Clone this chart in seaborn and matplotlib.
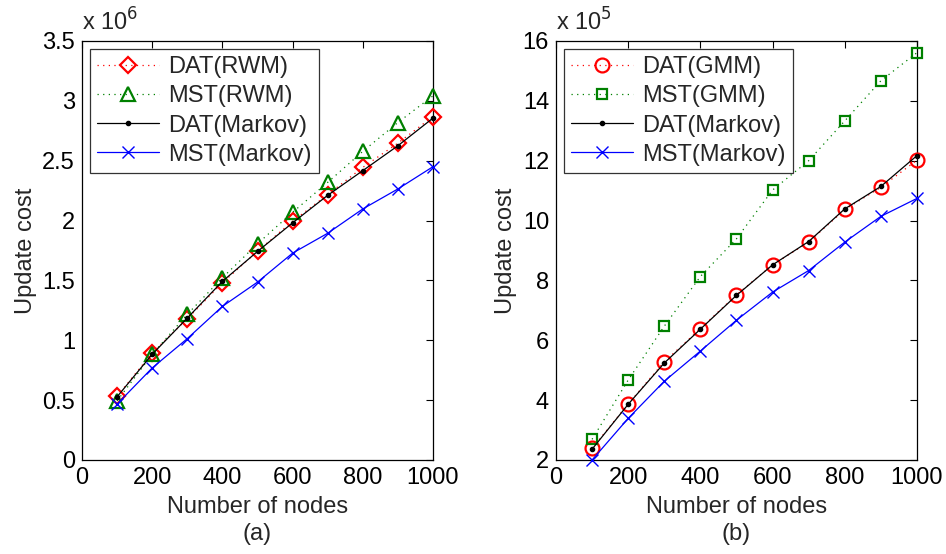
import pandas as pd
import matplotlib
matplotlib.use('Agg')
import matplotlib.pyplot as plt
import seaborn as sns

sns.set_theme(style='white')
plt.rcParams['font.family'] = ['Liberation Sans', 'DejaVu Sans']
plt.rcParams['axes.unicode_minus'] = False

nodes = [100, 200, 300, 400, 500, 600, 700, 800, 900, 1000]

# (a) values in units of 1e6
dat_rwm = [0.533, 0.894, 1.18, 1.48, 1.744, 1.994, 2.217, 2.444, 2.647, 2.869]
mst_rwm = [0.494, 0.883, 1.217, 1.522, 1.806, 2.069, 2.319, 2.578, 2.819, 3.042]
dat_markov_a = [0.528, 0.883, 1.186, 1.492, 1.742, 1.981, 2.211, 2.417, 2.625, 2.856]
mst_markov_a = [0.467, 0.769, 1.014, 1.283, 1.486, 1.728, 1.894, 2.097, 2.264, 2.45]

# (b) values in units of 1e5
dat_gmm = [2.39, 3.87, 5.28, 6.39, 7.52, 8.52, 9.28, 10.37, 11.11, 12.02]
mst_gmm = [2.69, 4.67, 6.47, 8.13, 9.39, 11.02, 12.0, 13.33, 14.67, 15.61]
dat_markov_b = [2.36, 3.86, 5.24, 6.37, 7.5, 8.52, 9.3, 10.39, 11.14, 12.17]
mst_markov_b = [2.0, 3.39, 4.63, 5.64, 6.67, 7.61, 8.33, 9.28, 10.14, 10.74]

FS = 17
DOT = (0, (1, 3.5))
fig = plt.figure(figsize=(9.46, 5.54), dpi=100)
ax1 = fig.add_axes([0.0867, 0.1697, 0.371, 0.7563])
ax2 = fig.add_axes([0.5877, 0.1697, 0.3816, 0.7563])


def draw(ax, name, vals, color, ls, marker, ms, mew):
    sns.lineplot(x=nodes, y=vals, ax=ax, color=color, linestyle=ls, linewidth=0.9,
                 marker=marker, markersize=ms, markerfacecolor='none' if marker != '.' else color,
                 markeredgecolor=color, markeredgewidth=mew, label=name, sort=False,
                 clip_on=False)


draw(ax1, 'DAT(RWM)', dat_rwm, 'red', DOT, 'D', 8, 1.6)
draw(ax1, 'MST(RWM)', mst_rwm, 'green', DOT, '^', 10, 1.6)
draw(ax1, 'DAT(Markov)', dat_markov_a, 'black', '-', '.', 6, 1)
draw(ax1, 'MST(Markov)', mst_markov_a, 'blue', '-', 'x', 8, 1)

draw(ax2, 'DAT(GMM)', dat_gmm, 'red', DOT, 'o', 10, 1.6)
draw(ax2, 'MST(GMM)', mst_gmm, 'green', DOT, 's', 7.5, 1.6)
draw(ax2, 'DAT(Markov)', dat_markov_b, 'black', '-', '.', 6, 1)
draw(ax2, 'MST(Markov)', mst_markov_b, 'blue', '-', 'x', 8, 1)

ax1.set_ylim(0, 3.5)
ax1.set_yticks([0, 0.5, 1, 1.5, 2, 2.5, 3, 3.5])
ax1.set_yticklabels(['0', '0.5', '1', '1.5', '2', '2.5', '3', '3.5'])
ax2.set_ylim(2, 16)
ax2.set_yticks([2, 4, 6, 8, 10, 12, 14, 16])
ax2.set_yticklabels(['2', '4', '6', '8', '10', '12', '14', '16'])

for ax, exp, tag in [(ax1, '6', '(a)'), (ax2, '5', '(b)')]:
    ax.set_xlim(0, 1000)
    ax.set_xticks([0, 200, 400, 600, 800, 1000])
    ax.tick_params(direction='in', top=True, right=True, labelsize=FS,
                   length=5, width=0.8, colors='black', pad=5)
    for s in ax.spines.values():
        s.set_color('black')
        s.set_linewidth(0.9)
        s.set_zorder(0)
    ax.set_xlabel('Number of nodes\n' + tag, fontsize=FS, labelpad=5, linespacing=1.3)
    ax.set_ylabel('Update cost', fontsize=FS, labelpad=4)
    ax.text(0.0, 1.012, 'x 10$^{' + exp + '}$', transform=ax.transAxes,
            fontsize=FS, ha='left', va='bottom')
    leg = ax.legend(loc='upper left', fontsize=FS, frameon=True, fancybox=False,
                    handlelength=2.6, borderpad=0.3, labelspacing=0.3,
                    handletextpad=0.4, borderaxespad=0.35)
    leg.get_frame().set_edgecolor('black')
    leg.get_frame().set_linewidth(0.9)

fig.savefig('out.png', dpi=100)
